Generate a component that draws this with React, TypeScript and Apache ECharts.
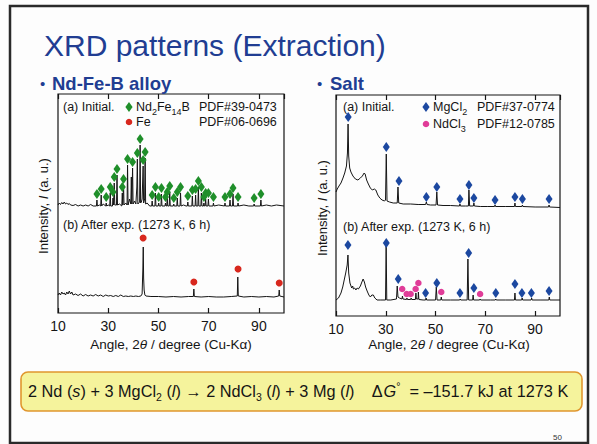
import React, { useEffect, useRef } from "react";
import * as echarts from "echarts";

const FONT = '"Liberation Sans", Arial, Helvetica, sans-serif';

// axis tick labels (degrees)
const X_MIN = 10;
const X_MAX = 100;
const X_STEP = 20;

// ---- Nd-Fe-B alloy, (a) initial: profile [2theta, intensity]
const alloyInitial: number[][] = [
  [10, 2], [10.5, 4], [11, 2.5], [11.5, 4.5], [12, 3], [12.5, 5], [13, 3], [13.5, 4], [14, 2.5], [14.5, 3.5],
  [15, 2], [16, 1.5], [17, 2.5], [18, 1], [19, 2], [20, 1], [21, 2], [22, 1], [23, 2.5], [24, 1],
  [25.3, 1], [25.5, 7], [25.7, 1], [26.5, 2], [27, 1], [27.2, 12], [27.4, 1], [28, 3], [29, 1], [29.2, 4], [29.4, 1],
  [30.0, 2], [30.6, 1], [30.8, 14], [31.0, 1], [31.7, 1], [31.9, 9], [32.1, 2], [32.4, 24], [32.6, 2], [33.3, 2],
  [33.5, 32], [33.7, 2], [34.5, 3], [35.4, 1], [35.6, 14], [35.8, 2], [36.1, 22], [36.3, 2], [37.0, 4], [37.5, 2],
  [37.7, 42], [37.9, 2], [38.5, 8], [39.0, 3], [39.2, 30], [39.4, 3], [39.7, 39], [39.9, 3], [40.5, 6], [41.0, 3],
  [41.4, 20], [41.6, 48], [41.8, 3], [42.5, 5], [42.7, 62], [42.9, 4], [43.2, 5], [43.5, 8], [43.9, 41], [44.1, 4],
  [44.5, 8], [44.7, 49], [44.9, 3], [45.5, 4], [46.5, 1], [47.3, 1], [47.5, 6], [47.7, 1], [48.6, 1], [48.8, 14],
  [49.0, 1], [49.9, 1], [50.1, 4], [50.3, 1], [51.0, 1], [51.2, 13], [51.4, 1], [52.6, 1], [52.8, 4], [53.0, 1],
  [53.3, 1], [53.5, 9], [53.7, 1], [54.3, 1], [54.5, 15], [54.7, 1], [55.9, 1], [56.1, 3], [56.3, 1], [57.3, 1],
  [57.5, 9], [57.7, 1], [58.6, 1], [58.8, 14], [59.0, 1], [60, 2], [61, 1], [61.5, 1], [61.7, 5], [61.9, 1],
  [63.3, 1], [63.5, 11], [63.7, 1], [64.6, 1], [64.8, 12], [65.0, 1], [65.7, 1], [65.9, 20], [66.1, 1], [66.9, 1],
  [67.1, 14], [67.3, 1], [67.9, 1], [68.1, 4], [68.3, 1], [68.6, 1], [68.8, 8], [69.0, 1], [69.7, 1], [69.9, 8],
  [70.1, 1], [71.7, 1], [71.9, 4], [72.1, 1], [74, 2], [76.3, 1], [76.5, 4], [76.7, 1], [78.3, 1], [78.5, 7],
  [78.7, 1], [79.5, 1], [79.7, 13], [79.9, 1], [81.5, 1], [81.7, 4], [81.9, 1], [84, 2], [86, 1], [87.9, 1],
  [88.1, 3], [88.3, 1], [90.6, 1], [90.8, 7], [91.0, 1], [93, 2], [95, 1], [97, 2], [100, 1],
];
// Nd2Fe14B marker positions
const nd2fe14bMarks: number[][] = [
  [25.5, 13], [27.2, 18], [29.2, 10], [30.8, 20], [31.9, 15], [32.4, 30], [33.5, 38], [35.6, 20], [36.1, 28],
  [37.7, 48], [39.7, 45], [41.6, 54], [42.7, 68], [43.9, 47], [44.7, 55], [47.5, 12], [48.8, 20], [50.1, 10],
  [51.2, 19], [52.8, 10], [53.5, 15], [54.5, 21], [56.1, 9], [57.5, 15], [58.8, 20], [61.7, 11], [63.5, 17],
  [64.8, 18], [65.9, 26], [67.1, 20], [68.1, 10], [68.8, 14], [69.9, 14], [71.9, 10], [76.5, 10], [78.5, 13],
  [79.7, 19], [81.7, 10], [88.1, 9], [90.8, 13],
];

// ---- Nd-Fe-B alloy, (b) after experiment
const alloyAfter: number[][] = [
  [10, 3], [10.5, 5], [11, 3], [11.5, 6], [12, 4], [12.5, 5], [13, 3], [13.5, 6], [14, 4], [14.5, 7], [15, 4],
  [15.5, 6], [16, 3], [17, 4], [18, 2.5], [19, 4], [20, 2], [21, 3.5], [22, 2], [23, 3], [24, 2], [25, 3.5],
  [26, 2], [27, 3], [28, 1.5], [29, 3], [30, 2], [31, 2.5], [32, 1.5], [33, 2.5], [34, 1.5], [35, 3], [36, 1.5],
  [37, 2], [38, 1.5], [39, 2], [40, 1.5], [41, 2], [42, 1.5], [43, 2], [43.5, 4], [43.8, 30], [43.95, 51],
  [44.1, 20], [44.3, 8], [44.6, 3], [45, 2], [47, 1.5], [50, 1.5], [53, 1], [56, 1.5], [59, 1], [62, 1.5],
  [63.9, 1.5], [64.1, 9], [64.3, 1.5], [67, 1], [70, 1.5], [73, 1], [76, 1], [79, 1.5], [81.4, 2], [81.6, 21],
  [81.8, 2], [84, 1], [87, 1.5], [90, 1], [93, 1.5], [96, 1], [97.9, 2], [98.1, 8], [98.3, 2], [100, 1],
];
const feMarks: number[][] = [[43.9, 60], [64.1, 16], [81.7, 29], [98.1, 15]];

// ---- Salt, (a) initial
const saltInitial: number[][] = [
  [10, 16], [10.5, 19], [11.2, 22], [12, 25], [12.8, 30], [13.5, 35], [14.2, 42], [14.6, 55], [14.85, 84],
  [15.1, 52], [15.5, 40], [16, 36], [16.8, 32], [17.8, 29], [18.8, 28], [19.8, 30], [20.6, 32], [21.3, 35],
  [21.7, 34], [22.3, 28], [23, 24], [23.8, 20], [24.6, 18], [25.4, 19], [26, 18], [26.8, 13], [27.6, 10],
  [28.5, 8], [29.5, 7], [29.9, 8], [30.2, 54], [30.5, 7], [31.5, 6], [33, 5], [34.6, 5], [34.9, 21], [35.2, 5],
  [37, 4], [40, 4], [43, 3.5], [46, 3.5], [46.3, 6], [46.6, 3.5], [48, 3], [50.2, 3], [50.5, 16], [50.8, 3],
  [53, 2.5], [56, 2.5], [59.6, 2], [59.8, 4], [60, 2], [62, 2], [63.2, 2], [63.4, 18], [63.7, 2], [65.2, 2],
  [65.4, 5], [65.6, 2], [68, 1.5], [71, 1.5], [73.7, 1.5], [73.9, 3], [74.1, 1.5], [78, 1.5], [81.7, 1.5],
  [81.9, 5], [82.1, 1.5], [84.7, 1.5], [84.9, 3], [85.1, 1.5], [90, 1], [95.4, 1], [95.6, 3], [95.8, 1], [100, 0.5],
];
const mgcl2MarksA: number[][] = [
  [14.9, 91], [30.2, 61], [35.3, 27], [46.3, 11], [50.5, 21], [59.8, 9], [63.4, 23], [65.4, 10], [73.9, 8],
  [81.9, 11], [84.9, 9], [95.6, 9],
];

// ---- Salt, (b) after experiment
const saltAfter: number[][] = [
  [10, 1], [11, 3], [12, 8], [12.7, 14], [13.3, 21], [13.9, 28], [14.5, 36], [14.8, 46], [15.1, 28], [15.6, 18],
  [16.3, 13], [16.7, 15], [17, 12], [17.5, 13], [18, 11], [18.5, 13], [19, 12], [19.8, 15], [20.4, 19],
  [20.9, 22], [21.4, 19], [21.9, 14], [22.5, 10], [23.2, 6], [23.8, 4], [24.4, 6], [25, 6], [25.6, 3], [26.5, 1],
  [28, 1], [29.9, 1], [30.15, 56], [30.4, 1], [32, 1], [34.3, 2], [34.6, 15], [34.9, 4], [35.5, 3], [36.5, 2],
  [36.7, 5], [36.9, 2], [38.3, 1.5], [38.5, 3], [38.7, 1.5], [40, 1.5], [40.2, 3], [40.4, 1.5], [41.9, 1.5],
  [42.1, 8], [42.3, 2], [43, 2], [43.1, 9], [43.3, 1.5], [45, 1], [46, 1], [46.2, 3], [46.4, 1], [50, 1],
  [50.3, 14], [50.6, 1], [52.1, 1], [52.3, 4], [52.5, 1], [56, 1], [59.7, 1], [59.9, 2], [60.1, 1], [62.7, 1],
  [63, 42], [63.3, 1], [64.9, 1], [65.1, 6], [65.3, 1], [67.7, 1], [67.9, 2], [68.1, 1], [72, 1], [74, 1],
  [74.2, 2], [74.4, 1], [78, 1], [81.7, 1], [81.9, 8], [82.1, 1], [84.6, 1], [84.8, 3], [85, 1], [88.4, 1],
  [88.6, 3], [88.8, 1], [92, 1], [95.5, 1], [95.7, 4], [95.9, 1], [100, 1],
];
const mgcl2MarksB: number[][] = [
  [14.8, 56], [30.2, 58], [35, 22], [46, 8], [50.5, 18], [59.8, 8], [63.3, 48], [65.4, 13], [74.2, 8],
  [81.9, 17], [84.7, 8], [88.5, 8], [95.6, 10],
];
const ndcl3Marks: number[][] = [[36.6, 12], [38.4, 7], [40, 7], [42, 12], [43.1, 18], [52.3, 9], [67.9, 7]];

const GREEN = "#1f8f2a";
const RED = "#d8281e";
const BLUE = "#1c48a0";
const MAGENTA = "#e03c98";
const INK = "#151515";
const NAVY = "#213d92";

function frameX(grid: number, pos: "bottom" | "top", showLabel: boolean) {
  return {
    type: "value",
    gridIndex: grid,
    position: pos,
    min: X_MIN,
    max: X_MAX,
    interval: X_STEP,
    axisLine: { show: false },
    axisTick: { show: true, inside: true, length: 5, lineStyle: { color: INK, width: 1.2 } },
    axisLabel: {
      show: showLabel,
      showMaxLabel: false,
      fontFamily: FONT,
      fontSize: 14,
      lineHeight: 14,
      color: INK,
      margin: 6,
    },
    splitLine: { show: false },
  };
}
function hiddenX(grid: number) {
  return { type: "value", gridIndex: grid, min: X_MIN, max: X_MAX, show: false, splitLine: { show: false } };
}
function hiddenY(grid: number, max: number) {
  return { type: "value", gridIndex: grid, min: 0, max, show: false, splitLine: { show: false } };
}
function profile(x: number, y: number, data: number[][]) {
  return {
    type: "line",
    xAxisIndex: x,
    yAxisIndex: y,
    data,
    showSymbol: false,
    symbol: "none",
    lineStyle: { color: INK, width: 1 },
    z: 2,
  };
}
function marks(x: number, y: number, data: number[][], symbol: string, size: any, color: string) {
  return {
    type: "scatter",
    xAxisIndex: x,
    yAxisIndex: y,
    data,
    symbol,
    symbolSize: size,
    itemStyle: { color, opacity: 1 },
    z: 3,
  };
}

function txt(x: number, y: number, text: string, extra: any = {}) {
  return {
    type: "text",
    x,
    y,
    style: {
      text,
      fontFamily: FONT,
      fontSize: 12.5,
      fill: INK,
      verticalAlign: "middle",
      ...extra,
    },
    z: 10,
  };
}
function diamond(cx: number, cy: number, color: string) {
  return {
    type: "polygon",
    shape: { points: [[cx, cy - 5], [cx + 3.6, cy], [cx, cy + 5], [cx - 3.6, cy]] },
    style: { fill: color },
    z: 10,
  };
}
function dot(cx: number, cy: number, color: string) {
  return { type: "circle", shape: { cx, cy, r: 3.3 }, style: { fill: color }, z: 10 };
}

const subRich = {
  sub: { fontFamily: FONT, fontSize: 9, lineHeight: 9, verticalAlign: "bottom", fill: INK },
  n: { fontFamily: FONT, fontSize: 12.5, lineHeight: 18, fill: INK },
};

export default function App() {
  const ref = useRef<HTMLDivElement>(null);
  useEffect(() => {
    if (!ref.current) return;
    const chart = echarts.init(ref.current, undefined, { renderer: "svg" });
    const option: any = {
      animation: false,
      backgroundColor: "#fdfdfd",
      grid: [
        { left: 58, top: 94, width: 226, height: 219, show: true, borderColor: INK, borderWidth: 1.2, backgroundColor: "transparent" },
        { left: 58, top: 97, width: 226, height: 110 },
        { left: 58, top: 208, width: 226, height: 90 },
        { left: 336, top: 95, width: 224, height: 221, show: true, borderColor: INK, borderWidth: 1.2, backgroundColor: "transparent" },
        { left: 336, top: 97, width: 224, height: 111 },
        { left: 336, top: 210, width: 224, height: 91 },
      ],
      xAxis: [
        frameX(0, "bottom", true),
        frameX(0, "top", false),
        hiddenX(1),
        hiddenX(2),
        frameX(3, "bottom", true),
        frameX(3, "top", false),
        hiddenX(4),
        hiddenX(5),
      ],
      yAxis: [
        hiddenY(0, 1),
        hiddenY(1, 110),
        hiddenY(2, 90),
        hiddenY(3, 1),
        hiddenY(4, 111),
        hiddenY(5, 91),
      ],
      series: [
        profile(2, 1, alloyInitial),
        marks(2, 1, nd2fe14bMarks, "diamond", [7, 10], GREEN),
        profile(3, 2, alloyAfter),
        marks(3, 2, feMarks, "circle", 7, RED),
        profile(6, 4, saltInitial),
        marks(6, 4, mgcl2MarksA, "diamond", [7, 10], BLUE),
        profile(7, 5, saltAfter),
        marks(7, 5, mgcl2MarksB, "diamond", [7, 10], BLUE),
        marks(7, 5, ndcl3Marks, "circle", 6.5, MAGENTA),
      ],
      graphic: [
        // slide border
        { type: "rect", shape: { x: 10, y: 6, width: 578, height: 437 }, style: { fill: "none", stroke: "#2a2a2a", lineWidth: 2.5 }, z: 1 },
        // title
        txt(44, 45, "XRD patterns (Extraction)", { fontSize: 30, fill: NAVY }),
        txt(40, 83, "•", { fontSize: 15, fill: NAVY }),
        txt(52, 83, "Nd-Fe-B alloy", { fontSize: 18.5, fontWeight: "bold", fill: NAVY }),
        txt(317, 83, "•", { fontSize: 15, fill: NAVY }),
        txt(330, 83, "Salt", { fontSize: 18.5, fontWeight: "bold", fill: NAVY }),
        // left legend
        txt(63, 107, "(a) Initial."),
        diamond(129, 107, GREEN),
        txt(136, 107, "{n|Nd}{sub|2}{n|Fe}{sub|14}{n|B}", { rich: subRich }),
        txt(199, 107, "PDF#39-0473"),
        dot(129, 122, RED),
        txt(136, 122, "Fe"),
        txt(199, 122, "PDF#06-0696"),
        txt(63, 225, "(b) After exp. (1273 K, 6 h)"),
        // right legend
        txt(343, 107, "(a) Initial."),
        diamond(426, 107, BLUE),
        txt(433, 107, "{n|MgCl}{sub|2}", { rich: subRich }),
        txt(477, 107, "PDF#37-0774"),
        dot(426, 124, MAGENTA),
        txt(433, 124, "{n|NdCl}{sub|3}", { rich: subRich }),
        txt(477, 124, "PDF#12-0785"),
        txt(343, 227, "(b) After exp. (1273 K, 6 h)"),
        // y titles
        {
          type: "text", x: 43, y: 206, rotation: Math.PI / 2, z: 10,
          style: {
            text: "Intensity, {i|I} (a. u.)", fontFamily: FONT, fontSize: 13, fill: INK,
            align: "center", verticalAlign: "middle",
            rich: { i: { fontFamily: FONT, fontSize: 13, fontStyle: "italic", fill: INK } },
          },
        },
        {
          type: "text", x: 322, y: 208, rotation: Math.PI / 2, z: 10,
          style: {
            text: "Intensity, {i|I} (a. u.)", fontFamily: FONT, fontSize: 13, fill: INK,
            align: "center", verticalAlign: "middle",
            rich: { i: { fontFamily: FONT, fontSize: 13, fontStyle: "italic", fill: INK } },
          },
        },
        // x titles
        {
          type: "text", x: 171, y: 344, z: 10,
          style: {
            text: "Angle, 2{i|θ} / degree (Cu-Kα)", fontFamily: FONT, fontSize: 13.5, fill: INK,
            align: "center", verticalAlign: "middle", lineHeight: 15,
            rich: { i: { fontFamily: FONT, fontSize: 13.5, fontStyle: "italic", fill: INK, lineHeight: 15 } },
          },
        },
        {
          type: "text", x: 449, y: 344, z: 10,
          style: {
            text: "Angle, 2{i|θ} / degree (Cu-Kα)", fontFamily: FONT, fontSize: 13.5, fill: INK,
            align: "center", verticalAlign: "middle", lineHeight: 15,
            rich: { i: { fontFamily: FONT, fontSize: 13.5, fontStyle: "italic", fill: INK, lineHeight: 15 } },
          },
        },
        // equation box
        { type: "rect", shape: { x: 21, y: 372, width: 561, height: 39, r: 7 }, style: { fill: "#f5f39c", stroke: "#e0962e", lineWidth: 1.6 }, z: 5 },
        {
          type: "text", x: 28, y: 391, z: 10,
          style: {
            text: "2 Nd ({i|s}) + 3 MgCl{sub|2} ({i|l}) → 2 NdCl{sub|3} ({i|l}) + 3 Mg ({i|l})    Δ{i|G}{sup|°}  = –151.7 kJ at 1273 K",
            fontFamily: FONT, fontSize: 16.3, fill: INK, verticalAlign: "middle", lineHeight: 22,
            rich: {
              i: { fontFamily: FONT, fontSize: 16.3, fontStyle: "italic", fill: INK, lineHeight: 22 },
              sub: { fontFamily: FONT, fontSize: 10.5, lineHeight: 10, verticalAlign: "bottom", fill: INK },
              sup: { fontFamily: FONT, fontSize: 10.5, lineHeight: 10, verticalAlign: "top", fill: INK },
            },
          },
        },
        txt(553, 437, "50", { fontSize: 8, fill: "#333" }),
      ],
    };
    chart.setOption(option);
    return () => chart.dispose();
  }, []);
  return (
    <div
      ref={ref}
      style={{ position: "fixed", left: 0, top: 0, width: 597, height: 444, background: "#fdfdfd" }}
    />
  );
}
